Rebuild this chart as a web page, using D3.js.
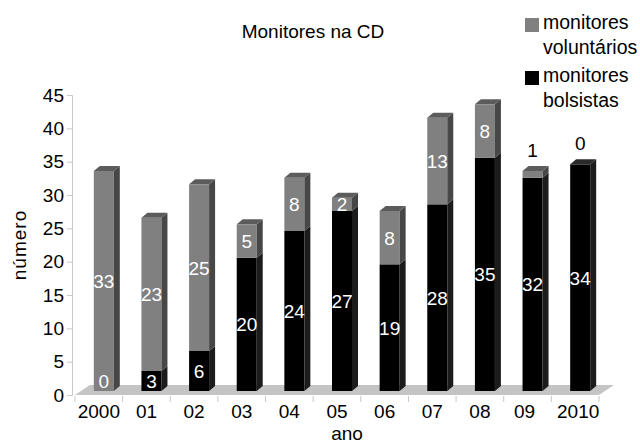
<!DOCTYPE html>
<meta charset="utf-8">
<head>
<style>
  body { margin: 0; background: white; font-family: Arial, "Liberation Sans", sans-serif; }
  svg { display: block; }
</style>
<script src="https://cdn.jsdelivr.net/npm/d3@7"></script>
</head>
<body>
<svg id="chart"></svg>
<script>
// data
let years = ["2000", "01", "02", "03", "04", "05", "06", "07", "08", "09", "2010"]
let bolsistas = [0, 3, 6, 20, 24, 27, 19, 28, 35, 32, 34]
let voluntarios = [33, 23, 25, 5, 8, 2, 8, 13, 8, 1, 0]
let yTicks = [0, 5, 10, 15, 20, 25, 30, 35, 40, 45]

let width = 640, height = 444
let svg = d3.select("#chart").attr("width", width).attr("height", height)

let xScale = d3.scaleBand().domain(years).range([75, 599]).padding(0)
let yScale = d3.scaleLinear().domain([0, 45]).range([395, 95])

// 3d offsets
let depth = {dx: 6, dy: -5}
let barShift = {dx: 5, dy: -4}
let barW = 20

// floor
let floorBack = {dx: 15, dy: -10}
svg.append("polygon")
  .attr("points", [
    [xScale.range()[0], yScale(0)],
    [xScale.range()[1], yScale(0)],
    [xScale.range()[1] + floorBack.dx, yScale(0) + floorBack.dy],
    [xScale.range()[0] + floorBack.dx, yScale(0) + floorBack.dy]
  ].map(p => p.join(",")).join(" "))
  .attr("fill", "#c4c4c4")

// y axis
let axisY = d3.axisLeft(yScale).tickValues(yTicks).tickSize(5).tickPadding(3)
let gy = svg.append("g").attr("transform", "translate(72,0)").call(axisY)
gy.select(".domain").attr("stroke", "#c8c8c8")
gy.selectAll(".tick line").attr("stroke", "#c8c8c8")
gy.selectAll("text").attr("font-size", 19).attr("fill", "#000").attr("font-family", "Arial, 'Liberation Sans', sans-serif")

// x axis
let axisX = d3.axisBottom(xScale).tickSize(0).tickPadding(9)
let gx = svg.append("g").attr("transform", `translate(0,${yScale(0) + 1})`).call(axisX)
gx.select(".domain").remove()
gx.selectAll("text").attr("font-size", 19).attr("fill", "#000").attr("font-family", "Arial, 'Liberation Sans', sans-serif")
  .attr("dx", d => d == "09" ? -3 : (d == "2010" ? 3 : 0))
let bounds = years.map(d => xScale(d)).concat([xScale.range()[1]])
svg.append("g").selectAll("line").data(bounds).enter().append("line")
  .attr("x1", d => d).attr("x2", d => d)
  .attr("y1", yScale(0) + 1).attr("y2", yScale(0) + 7)
  .attr("stroke", "#c8c8c8")

// stacked 3d bars
let stacks = years.map((y, i) => ({
  year: y,
  segs: [
    {key: "b", v0: 0, v1: bolsistas[i], val: bolsistas[i]},
    {key: "v", v0: bolsistas[i], v1: bolsistas[i] + voluntarios[i], val: voluntarios[i]}
  ]
}))

let colors = {
  b: {front: "#000000", side: "#1c1c1c", top: "#2a2a2a"},
  v: {front: "#808080", side: "#474747", top: "#5c5c5c"}
}

let bars = svg.append("g")
stacks.forEach(s => {
  let x0 = xScale(s.year) + xScale.bandwidth() / 2 - barW / 2 + barShift.dx
  s.segs.forEach(seg => {
    if (seg.val <= 0) return
    let yTop = yScale(seg.v1) + barShift.dy
    let yBot = yScale(seg.v0) + barShift.dy
    let c = colors[seg.key]
    bars.append("rect")
      .attr("x", x0).attr("y", yTop).attr("width", barW).attr("height", yBot - yTop)
      .attr("fill", c.front)
    bars.append("polygon")
      .attr("points", [[x0 + barW, yTop], [x0 + barW + depth.dx, yTop + depth.dy],
        [x0 + barW + depth.dx, yBot + depth.dy], [x0 + barW, yBot]].map(p => p.join(",")).join(" "))
      .attr("fill", c.side)
  })
  // top face of the stack
  let total = s.segs[1].v1
  let topSeg = s.segs[1].val > 0 ? "v" : "b"
  let yT = yScale(total) + barShift.dy
  bars.append("polygon")
    .attr("points", [[x0, yT], [x0 + depth.dx, yT + depth.dy], [x0 + barW + depth.dx, yT + depth.dy],
      [x0 + barW, yT]].map(p => p.join(",")).join(" "))
    .attr("fill", colors[topSeg].top)
})

// value labels
let labels = svg.append("g").attr("font-size", 19).attr("text-anchor", "middle")
stacks.forEach(s => {
  let cx = xScale(s.year) + xScale.bandwidth() / 2 + barShift.dx
  s.segs.forEach(seg => {
    let yTop = yScale(seg.v1) + barShift.dy
    let yBot = yScale(seg.v0) + barShift.dy
    let ty, fill = "#fff"
    if (seg.key == "v" && seg.val <= 1) {
      ty = yTop - 14
      fill = "#000"
    } else if (seg.val == 0) {
      ty = yBot - 3
    } else {
      ty = (yTop + yBot) / 2 + 7
    }
    labels.append("text").attr("x", cx).attr("y", ty).attr("fill", fill).text(seg.val)
  })
})

// title and axis titles
svg.append("text").attr("x", 313).attr("y", 38).attr("text-anchor", "middle")
  .attr("font-size", 19).text("Monitores na CD")
svg.append("text").attr("x", 347).attr("y", 440).attr("text-anchor", "middle")
  .attr("font-size", 19).text("ano")
svg.append("text").attr("transform", "translate(26,245) rotate(-90)").attr("text-anchor", "middle")
  .attr("font-size", 19).attr("letter-spacing", 1).text("número")

// legend
let legend = [
  {label: ["monitores", "voluntários"], color: "#808080", y: 18},
  {label: ["monitores", "bolsistas"], color: "#000000", y: 71}
]
let lg = svg.append("g")
legend.forEach(l => {
  lg.append("rect").attr("x", 525).attr("y", l.y).attr("width", 14).attr("height", 14).attr("fill", l.color)
  lg.append("text").attr("x", 543).attr("y", l.y + 11).attr("font-size", 19.5).text(l.label[0])
  lg.append("text").attr("x", 543).attr("y", l.y + 36).attr("font-size", 19.5).text(l.label[1])
})
</script>
</body>
